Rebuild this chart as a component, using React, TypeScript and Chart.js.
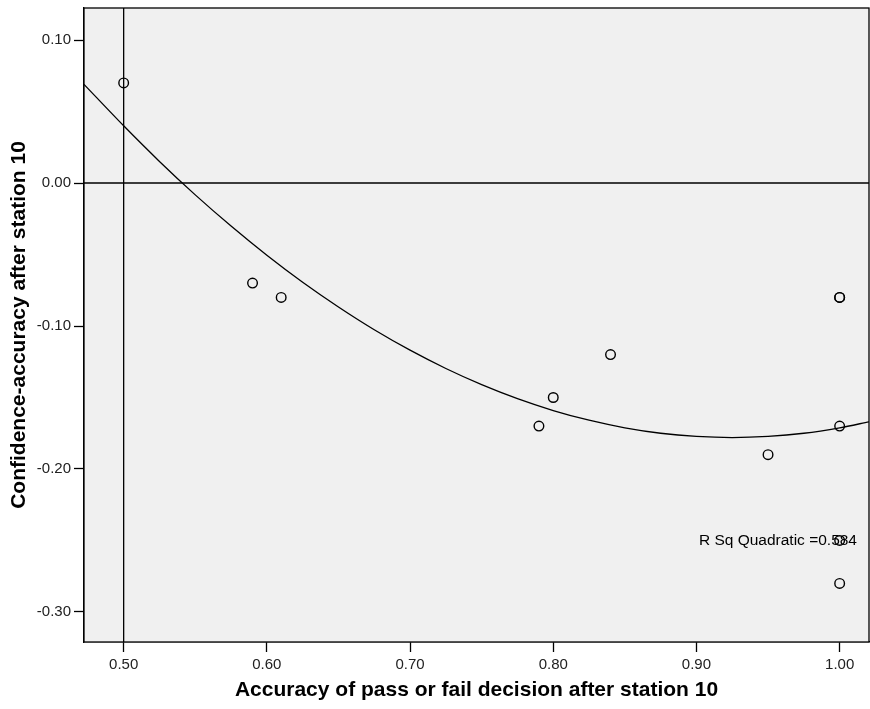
import React, { useEffect, useRef } from "react";
import { Chart, registerables } from "chart.js";

Chart.register(...registerables);

// Observed points (accuracy, confidence-accuracy)
const ACCURACY = [0.5, 0.59, 0.61, 0.79, 0.8, 0.84, 0.95, 1.0, 1.0, 1.0, 1.0, 1.0];
const CONF_ACC = [0.07, -0.07, -0.08, -0.17, -0.15, -0.12, -0.19, -0.08, -0.08, -0.17, -0.25, -0.28];

// Quadratic fit curve
const FIT_X = [
  0.4723, 0.5, 0.525, 0.55, 0.575, 0.6, 0.625, 0.65, 0.675, 0.7, 0.725, 0.75, 0.775, 0.8, 0.825, 0.85,
  0.875, 0.9, 0.925, 0.95, 0.975, 1.0, 1.0205,
];
const FIT_Y = [
  0.069, 0.04, 0.0151, -0.0083, -0.0301, -0.0505, -0.0694, -0.0867, -0.1026, -0.1169, -0.1297, -0.141,
  -0.1508, -0.1591, -0.1659, -0.1712, -0.175, -0.1772, -0.178, -0.1772, -0.175, -0.1712, -0.167,
];

const X_TICKS = [0.5, 0.6, 0.7, 0.8, 0.9, 1.0];
const Y_TICKS = [-0.3, -0.2, -0.1, 0.0, 0.1];
const X_MIN = 0.4723;
const X_MAX = 1.0205;
const Y_MIN = -0.321;
const Y_MAX = 0.1224;

const REF_X = 0.5;
const REF_Y = 0.0;
const R_SQ_TEXT = "R Sq Quadratic =0.584";
const R_SQ_AT_X = 0.9017;
const R_SQ_AT_Y = -0.25;

const X_TITLE = "Accuracy of pass or fail decision after station 10";
const Y_TITLE = "Confidence-accuracy after station 10";

const FONT = "'Liberation Sans', Arial, sans-serif";

const framePlugin = {
  id: "frame",
  beforeDatasetsDraw(chart: any) {
    const { ctx, chartArea: a } = chart;
    ctx.save();
    ctx.fillStyle = "#f0f0f0";
    ctx.fillRect(a.left, a.top, a.right - a.left, a.bottom - a.top);
    const xs = chart.scales.x;
    const ys = chart.scales.y;
    ctx.strokeStyle = "#000";
    ctx.lineWidth = 1.3;
    ctx.beginPath();
    const px = xs.getPixelForValue(REF_X);
    ctx.moveTo(px, a.top);
    ctx.lineTo(px, a.bottom);
    const py = ys.getPixelForValue(REF_Y);
    ctx.moveTo(a.left, py);
    ctx.lineTo(a.right, py);
    ctx.stroke();
    ctx.restore();
  },
  afterDatasetsDraw(chart: any) {
    const { ctx, chartArea: a } = chart;
    const xs = chart.scales.x;
    const ys = chart.scales.y;
    ctx.save();
    ctx.fillStyle = "#000";
    ctx.font = `15.5px ${FONT}`;
    ctx.textAlign = "left";
    ctx.textBaseline = "middle";
    ctx.fillText(R_SQ_TEXT, xs.getPixelForValue(R_SQ_AT_X), ys.getPixelForValue(R_SQ_AT_Y));
    ctx.strokeStyle = "#000";
    ctx.lineWidth = 1.3;
    ctx.strokeRect(a.left, a.top, a.right - a.left, a.bottom - a.top);
    ctx.restore();
  },
};

export default function App() {
  const ref = useRef<HTMLCanvasElement | null>(null);
  useEffect(() => {
    document.body.style.margin = "0";
    const canvas = ref.current;
    if (!canvas) return;
    const chart = new Chart(canvas, {
      type: "scatter",
      data: {
        datasets: [
          {
            type: "line",
            data: FIT_X.map((x, i) => ({ x, y: FIT_Y[i] })),
            borderColor: "#000",
            borderWidth: 1.3,
            pointRadius: 0,
            fill: false,
            tension: 0.3,
          } as any,
          {
            type: "scatter",
            data: ACCURACY.map((x, i) => ({ x, y: CONF_ACC[i] })),
            pointRadius: 4.8,
            pointBorderWidth: 1.4,
            pointBorderColor: "#000",
            pointBackgroundColor: "rgba(0,0,0,0)",
            borderColor: "#000",
            backgroundColor: "rgba(0,0,0,0)",
          } as any,
        ],
      },
      options: {
        animation: false,
        responsive: false,
        layout: { autoPadding: false, padding: { top: 8, right: 1, left: 0, bottom: 0 } },
        plugins: { legend: { display: false }, tooltip: { enabled: false } },
        scales: {
          x: {
            type: "linear",
            min: X_MIN,
            max: X_MAX,
            afterBuildTicks: (s: any) => {
              s.ticks = X_TICKS.map((v) => ({ value: v }));
            },
            afterFit: (s: any) => {
              s.height = 67;
              s.paddingLeft = 0;
              s.paddingRight = 0;
            },
            grid: { drawOnChartArea: false, drawTicks: true, tickLength: 10, tickColor: "#000", tickWidth: 1.3 },
            border: { display: true, color: "#000", width: 1.3 },
            ticks: {
              padding: 4,
              color: "#222",
              font: { family: FONT, size: 15 },
              callback: (v: any) => Number(v).toFixed(2),
              maxRotation: 0,
              autoSkip: false,
            },
            title: {
              display: true,
              text: X_TITLE,
              color: "#000",
              font: { family: FONT, size: 21, weight: "bold" },
              padding: { top: 0, bottom: 6 },
            },
          },
          y: {
            type: "linear",
            min: Y_MIN,
            max: Y_MAX,
            afterBuildTicks: (s: any) => {
              s.ticks = Y_TICKS.map((v) => ({ value: v }));
            },
            afterFit: (s: any) => {
              s.width = 84;
              s.paddingTop = 0;
              s.paddingBottom = 0;
            },
            grid: { drawOnChartArea: false, drawTicks: true, tickLength: 10, tickColor: "#000", tickWidth: 1.3 },
            border: { display: true, color: "#000", width: 1.3 },
            ticks: {
              padding: 3,
              color: "#222",
              font: { family: FONT, size: 15 },
              callback: (v: any) => Number(v).toFixed(2),
              autoSkip: false,
            },
            title: {
              display: true,
              text: Y_TITLE,
              color: "#000",
              font: { family: FONT, size: 21, weight: "bold" },
              padding: { top: 7, bottom: 0 },
            },
          },
        },
      },
      plugins: [framePlugin],
    });
    return () => chart.destroy();
  }, []);
  return (
    <div style={{ width: 870, height: 709 }}>
      <canvas ref={ref} width={870} height={709} style={{ width: 870, height: 709, display: "block" }} />
    </div>
  );
}
